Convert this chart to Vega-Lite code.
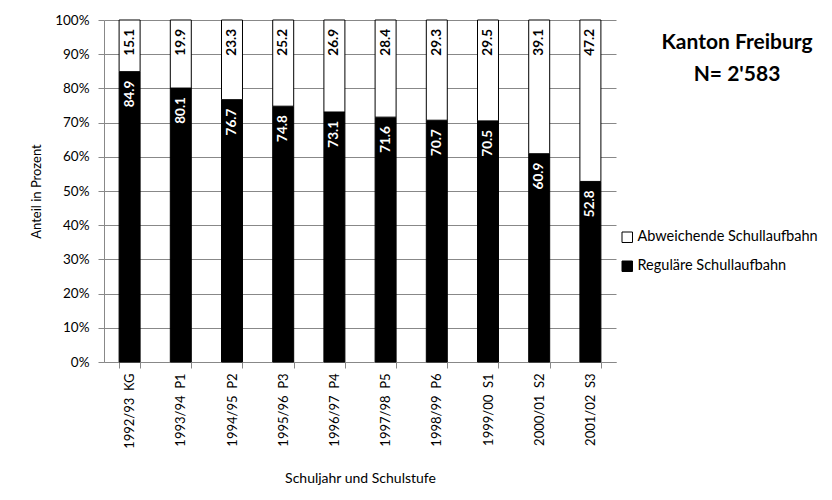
{
  "$schema": "https://vega.github.io/schema/vega-lite/v6.json",
  "width": 512,
  "height": 342,
  "autosize": {"type": "none"},
  "padding": {"left": 104, "top": 20, "right": 216, "bottom": 138},
  "background": "white",
  "config": {"font": "Lato", "view": {"stroke": null}},
  "title": {
    "text": ["Kanton Freiburg", "N= 2'583"],
    "anchor": "end",
    "frame": "group",
    "align": "center",
    "baseline": "top",
    "fontSize": 21,
    "fontWeight": "bold",
    "color": "black",
    "lineHeight": 32,
    "dx": 121,
    "dy": 72,
    "offset": 0
  },
  "data": {
    "values": [
      {"jahr": "1992/93 \u00a0KG", "typ": "Reguläre Schullaufbahn", "ord": 1, "wert": 84.9},
      {"jahr": "1992/93 \u00a0KG", "typ": "Abweichende Schullaufbahn", "ord": 2, "wert": 15.1},
      {"jahr": "1993/94 \u00a0P1", "typ": "Reguläre Schullaufbahn", "ord": 1, "wert": 80.1},
      {"jahr": "1993/94 \u00a0P1", "typ": "Abweichende Schullaufbahn", "ord": 2, "wert": 19.9},
      {"jahr": "1994/95 \u00a0P2", "typ": "Reguläre Schullaufbahn", "ord": 1, "wert": 76.7},
      {"jahr": "1994/95 \u00a0P2", "typ": "Abweichende Schullaufbahn", "ord": 2, "wert": 23.3},
      {"jahr": "1995/96 \u00a0P3", "typ": "Reguläre Schullaufbahn", "ord": 1, "wert": 74.8},
      {"jahr": "1995/96 \u00a0P3", "typ": "Abweichende Schullaufbahn", "ord": 2, "wert": 25.2},
      {"jahr": "1996/97 \u00a0P4", "typ": "Reguläre Schullaufbahn", "ord": 1, "wert": 73.1},
      {"jahr": "1996/97 \u00a0P4", "typ": "Abweichende Schullaufbahn", "ord": 2, "wert": 26.9},
      {"jahr": "1997/98 \u00a0P5", "typ": "Reguläre Schullaufbahn", "ord": 1, "wert": 71.6},
      {"jahr": "1997/98 \u00a0P5", "typ": "Abweichende Schullaufbahn", "ord": 2, "wert": 28.4},
      {"jahr": "1998/99 \u00a0P6", "typ": "Reguläre Schullaufbahn", "ord": 1, "wert": 70.7},
      {"jahr": "1998/99 \u00a0P6", "typ": "Abweichende Schullaufbahn", "ord": 2, "wert": 29.3},
      {"jahr": "1999/00 \u00a0S1", "typ": "Reguläre Schullaufbahn", "ord": 1, "wert": 70.5},
      {"jahr": "1999/00 \u00a0S1", "typ": "Abweichende Schullaufbahn", "ord": 2, "wert": 29.5},
      {"jahr": "2000/01 \u00a0S2", "typ": "Reguläre Schullaufbahn", "ord": 1, "wert": 60.9},
      {"jahr": "2000/01 \u00a0S2", "typ": "Abweichende Schullaufbahn", "ord": 2, "wert": 39.1},
      {"jahr": "2001/02 \u00a0S3", "typ": "Reguläre Schullaufbahn", "ord": 1, "wert": 52.8},
      {"jahr": "2001/02 \u00a0S3", "typ": "Abweichende Schullaufbahn", "ord": 2, "wert": 47.2}
    ]
  },
  "encoding": {
    "x": {
      "field": "jahr",
      "type": "nominal",
      "sort": null,
      "scale": {"paddingInner": 0.59, "paddingOuter": 0.295},
      "axis": {
        "title": "Schuljahr und Schulstufe",
        "titleFontSize": 14,
        "titleFontWeight": "normal",
        "titleColor": "black",
        "titlePadding": 23,
        "labelAngle": -90,
        "labelFontSize": 13,
        "labelColor": "black",
        "labelPadding": 5,
        "tickBand": "extent",
        "tickSize": 6,
        "tickColor": "#888888",
        "domainColor": "#888888",
        "grid": false
      }
    },
    "y": {
      "field": "wert",
      "type": "quantitative",
      "stack": "zero",
      "scale": {"domain": [0, 100], "nice": false},
      "axis": {
        "title": "Anteil in Prozent",
        "titleFontSize": 13,
        "titleFontWeight": "normal",
        "titleColor": "black",
        "titlePadding": 11,
        "values": [0, 10, 20, 30, 40, 50, 60, 70, 80, 90, 100],
        "labelExpr": "datum.value + '%'",
        "labelFontSize": 13.5,
        "labelColor": "black",
        "labelPadding": 9,
        "tickSize": 6,
        "tickColor": "#888888",
        "domainColor": "#888888",
        "gridColor": "#888888",
        "gridOpacity": 1
      }
    },
    "order": {"field": "ord", "type": "quantitative"}
  },
  "layer": [
    {
      "mark": {"type": "bar", "stroke": "black", "strokeWidth": 1},
      "encoding": {
        "fill": {
          "field": "typ",
          "type": "nominal",
          "scale": {"domain": ["Abweichende Schullaufbahn", "Reguläre Schullaufbahn"], "range": ["white", "black"]},
          "legend": {
            "title": null,
            "orient": "none",
            "legendX": 516,
            "legendY": 210,
            "symbolType": "square",
            "symbolSize": 110,
            "symbolStrokeColor": "black",
            "symbolStrokeWidth": 1,
            "labelFontSize": 14.5,
            "labelColor": "black",
            "labelOffset": 3,
            "labelLimit": 300,
            "rowPadding": 13
          }
        }
      }
    },
    {
      "mark": {"type": "text", "angle": -90, "align": "right", "baseline": "middle", "dx": -9, "fontWeight": "bold", "fontSize": 13.5},
      "encoding": {
        "text": {"field": "wert", "type": "quantitative", "format": ".1f"},
        "color": {
          "field": "typ",
          "type": "nominal",
          "scale": {"domain": ["Abweichende Schullaufbahn", "Reguläre Schullaufbahn"], "range": ["black", "white"]},
          "legend": null
        }
      }
    }
  ]
}
